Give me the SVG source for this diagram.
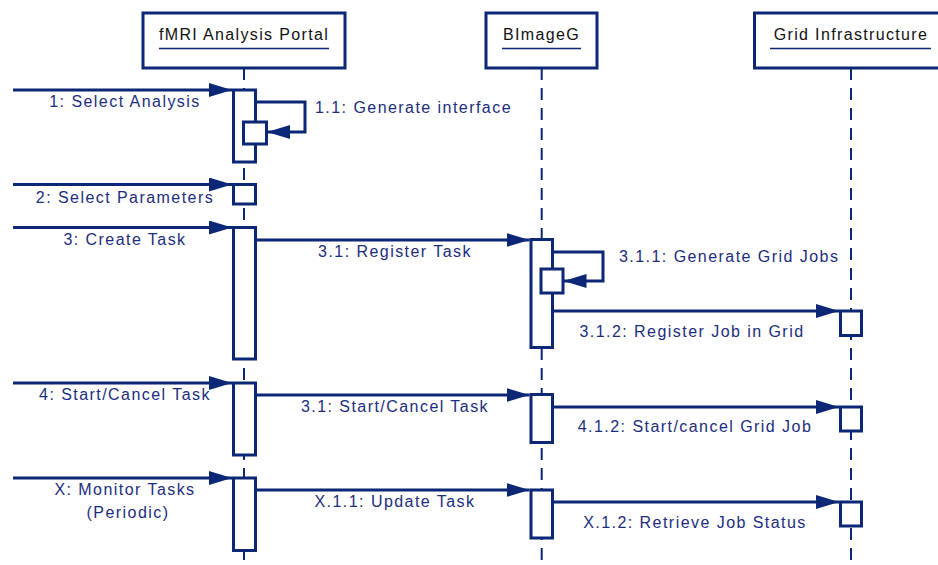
<svg xmlns="http://www.w3.org/2000/svg" width="938" height="565" viewBox="0 0 938 565">
<defs>
<marker id="arr" markerUnits="userSpaceOnUse" markerWidth="26" markerHeight="16" refX="23" refY="7" orient="auto">
<path d="M0,0 L23,7 L0,14 Z" fill="#0b2775"/>
</marker>
<style>
.hdr{fill:#fff;stroke:#0b2775;stroke-width:3}
.ttl{font-family:"Liberation Sans",Arial,sans-serif;font-size:16px;letter-spacing:1.35px;fill:#111}
.ul{stroke:#0b2775;stroke-width:1.5}
.life{stroke:#0b2775;stroke-width:2;stroke-dasharray:12 8;fill:none}
.act{fill:#fff;stroke:#0b2775;stroke-width:3}
.msg{stroke:#0b2775;stroke-width:3;fill:none;marker-end:url(#arr)}
.lbl{font-family:"Liberation Sans",Arial,sans-serif;font-size:16px;letter-spacing:1.45px;fill:#1b2d7e}
</style>
</defs>
<rect width="938" height="565" fill="#fff"/>

<g id="lifelines">
<line class="life" x1="244" y1="68" x2="244" y2="565"/>
<line class="life" x1="541.7" y1="68" x2="541.7" y2="565"/>
<line class="life" x1="851" y1="68" x2="851" y2="565"/>
</g>

<g id="portal">
<rect class="hdr" x="143" y="13" width="202" height="55"/>
<text class="ttl" x="244" y="39.5" text-anchor="middle">fMRI Analysis Portal</text>
<line class="ul" x1="159" y1="48.5" x2="329" y2="48.5"/>
</g>
<g id="bimageg">
<rect class="hdr" x="486" y="13" width="111" height="55"/>
<text class="ttl" x="541.5" y="39.5" text-anchor="middle">BImageG</text>
<line class="ul" x1="502" y1="48.5" x2="581" y2="48.5"/>
</g>
<g id="grid">
<rect class="hdr" x="754.5" y="13" width="200" height="55"/>
<text class="ttl" x="851" y="39.5" text-anchor="middle">Grid Infrastructure</text>
<line class="ul" x1="770" y1="48.5" x2="931" y2="48.5"/>
</g>

<g id="activations">
<rect class="act" x="233.5" y="90" width="22" height="72"/>
<rect class="act" x="243.5" y="122" width="23" height="22"/>
<rect class="act" x="233.5" y="184.5" width="22" height="19.5"/>
<rect class="act" x="233.5" y="227.5" width="22" height="131.5"/>
<rect class="act" x="233.5" y="383" width="22" height="72"/>
<rect class="act" x="233.5" y="478" width="22" height="72.5"/>
<rect class="act" x="531" y="239.5" width="21.5" height="108"/>
<rect class="act" x="541" y="269" width="22" height="24"/>
<rect class="act" x="531" y="394.5" width="21.5" height="48"/>
<rect class="act" x="531" y="490" width="21.5" height="48"/>
<rect class="act" x="840.5" y="311" width="21" height="24.5"/>
<rect class="act" x="840.5" y="407" width="21" height="24"/>
<rect class="act" x="840.5" y="502" width="21" height="24"/>
</g>

<g id="connectors">
<line class="msg" x1="13" y1="90" x2="232" y2="90"/>
<polyline class="msg" points="256,102 305,102 305,132 267,132"/>
<line class="msg" x1="13" y1="184.5" x2="232" y2="184.5"/>
<line class="msg" x1="13" y1="227.5" x2="232" y2="227.5"/>
<line class="msg" x1="256" y1="240" x2="529.5" y2="240"/>
<polyline class="msg" points="553,252 603,252 603,281 563.5,281"/>
<line class="msg" x1="553" y1="311" x2="839" y2="311"/>
<line class="msg" x1="13" y1="383" x2="232" y2="383"/>
<line class="msg" x1="256" y1="395" x2="529.5" y2="395"/>
<line class="msg" x1="553" y1="407" x2="839" y2="407"/>
<line class="msg" x1="13" y1="478" x2="232" y2="478"/>
<line class="msg" x1="256" y1="490" x2="529.5" y2="490"/>
<line class="msg" x1="553" y1="502" x2="839" y2="502"/>
</g>

<g id="labels">
<text class="lbl" x="125" y="107" text-anchor="middle">1: Select Analysis</text>
<text class="lbl" x="315" y="113">1.1: Generate interface</text>
<text class="lbl" x="125" y="203" text-anchor="middle">2: Select Parameters</text>
<text class="lbl" x="125" y="245" text-anchor="middle">3: Create Task</text>
<text class="lbl" x="395" y="257" text-anchor="middle">3.1: Register Task</text>
<text class="lbl" x="619" y="262">3.1.1: Generate Grid Jobs</text>
<text class="lbl" x="692" y="337" text-anchor="middle">3.1.2: Register Job in Grid</text>
<text class="lbl" x="125" y="400" text-anchor="middle">4: Start/Cancel Task</text>
<text class="lbl" x="395" y="412" text-anchor="middle">3.1: Start/Cancel Task</text>
<text class="lbl" x="695" y="432" text-anchor="middle">4.1.2: Start/cancel Grid Job</text>
<text class="lbl" x="125" y="495" text-anchor="middle">X: Monitor Tasks</text>
<text class="lbl" x="128" y="517.5" text-anchor="middle">(Periodic)</text>
<text class="lbl" x="395" y="507" text-anchor="middle">X.1.1: Update Task</text>
<text class="lbl" x="695" y="528" text-anchor="middle">X.1.2: Retrieve Job Status</text>
</g>
</svg>
